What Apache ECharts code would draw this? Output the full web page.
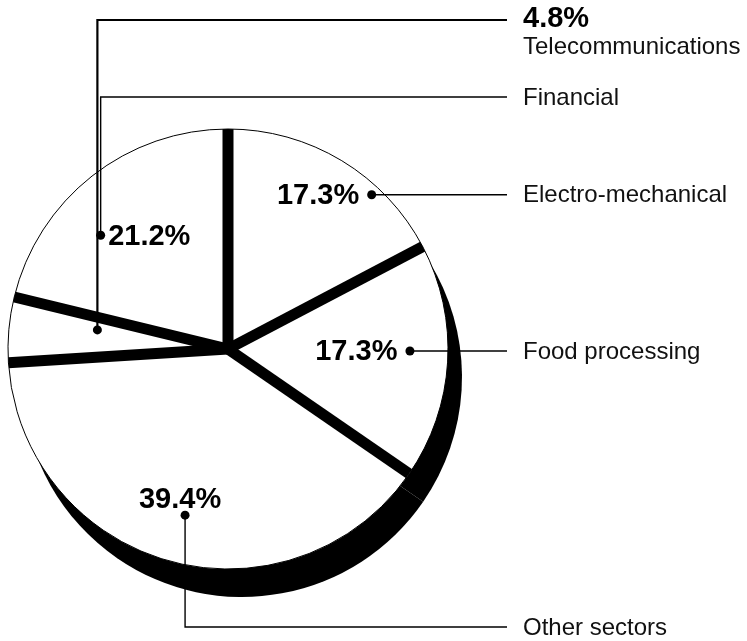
<!DOCTYPE html>
<html><head><meta charset="utf-8">
<script src="https://cdn.jsdelivr.net/npm/echarts@6/dist/echarts.min.js"></script>
<style>html,body{margin:0;padding:0;background:#fff}#chart{width:747px;height:641px}</style>
</head><body><div id="chart"></div>
<script>
// ---- data ----
const categories = ['Electro-mechanical', 'Food processing', 'Other sectors', 'Telecommunications', 'Financial'];
const shares = [17.3, 17.3, 39.4, 4.8, 21.2];
const percentLabels = ['17.3%', '17.3%', '39.4%', '4.8%', '21.2%'];

// ---- layout (not data) ----
const CX = 228, CY = 349, R = 220;
const SHADOW = [14, 28];
const BAND = 11;
const FONT = "'Liberation Sans', Arial, Helvetica, sans-serif";
// anchor of each label dot: [fraction through slice, fraction of radius]
const anchors = [[0.69, 0.958], [0.455, 0.827], [0.493, 0.78], [0.69, 0.60], [0.368, 0.776]];
const pctPos = [
  { position: 'left', distance: 8, offset: [0, 1] },
  { position: 'left', distance: 8, offset: [0, 1] },
  { position: 'top', distance: -4, offset: [-5, 0] },
  null,
  { position: 'right', distance: 3, offset: [0, 2] }
];
// leader routes: 'h' = straight right; 'up'/'down' = vertical to y then right
const routes = [
  { type: 'h', end: 507 },
  { type: 'h', end: 507 },
  { type: 'down', y: 627, end: 507 },
  { type: 'up', y: 20, end: 507, width: 2.2 },
  { type: 'up', y: 97, end: 507 }
];
const TEXT_X = 523;

const starts = [];
shares.reduce((acc, v, i) => { starts[i] = acc; return acc + v; }, 0);
const total = shares.reduce((a, b) => a + b, 0);

const pieData = categories.map((c, i) => ({ name: c, value: shares[i] }));
const boundaries = starts.slice();

const pctLabelStyle = { color: '#000', fontFamily: FONT, fontSize: 29, fontWeight: 'bold' };
const dotData = categories.map((c, i) => {
  const p = pctPos[i];
  const item = { value: [anchors[i][1], starts[i] + anchors[i][0] * shares[i]], name: c };
  if (p) {
    item.label = Object.assign({ show: true, position: p.position, distance: p.distance, offset: p.offset,
      formatter: percentLabels[i] }, pctLabelStyle);
  } else {
    item.label = { show: false };
  }
  return item;
});

const chart = echarts.init(document.getElementById('chart'), null, { renderer: 'canvas' });

const series = [
  { type: 'pie', z: 1, center: [CX + SHADOW[0], CY + SHADOW[1]], radius: R, startAngle: 90,
    silent: true, animation: false, label: { show: false }, labelLine: { show: false },
    itemStyle: { color: '#000', borderWidth: 0 }, emphasis: { disabled: true }, data: pieData },
  { type: 'pie', z: 2, center: [CX, CY], radius: R, startAngle: 90,
    silent: true, animation: false, label: { show: false }, labelLine: { show: false },
    itemStyle: { color: '#fff', borderColor: '#000', borderWidth: 1 }, emphasis: { disabled: true }, data: pieData }
];
boundaries.forEach(b => {
  series.push({ type: 'line', coordinateSystem: 'polar', polarIndex: 0, z: 3, clip: false,
    silent: true, animation: false, symbol: 'none',
    lineStyle: { color: '#000', width: BAND, cap: 'butt' },
    data: [[0, b], [1, b]] });
});
series.push({ type: 'scatter', coordinateSystem: 'polar', polarIndex: 0, z: 5, silent: true,
  animation: false, symbol: 'circle', symbolSize: 9, itemStyle: { color: '#000', opacity: 1 },
  label: pctLabelStyle, data: dotData });
const scatterIndex = series.length - 1;

chart.setOption({
  backgroundColor: '#fff',
  animation: false,
  polar: { center: [CX, CY], radius: R },
  angleAxis: { type: 'value', min: 0, max: total, startAngle: 90, clockwise: true, show: false },
  radiusAxis: { type: 'value', min: 0, max: 1, show: false },
  series: series
});

// leader lines and category labels
const graphics = [];
dotData.forEach((d, i) => {
  let pt = chart.convertToPixel({ seriesIndex: scatterIndex }, d.value);
  if (!pt) {
    const a = (90 - d.value[1] / total * 360) * Math.PI / 180;
    pt = [CX + d.value[0] * R * Math.cos(a), CY - d.value[0] * R * Math.sin(a)];
  }
  const r = routes[i];
  let pts, ly;
  if (r.type === 'h') { pts = [pt, [r.end, pt[1]]]; ly = pt[1]; }
  else { pts = [pt, [pt[0], r.y], [r.end, r.y]]; ly = r.y; }
  graphics.push({ type: 'polyline', z: 50, silent: true,
    shape: { points: pts },
    style: { stroke: '#000', lineWidth: r.width || 1.4, fill: null } });
  if (i === 3) {
    graphics.push({ type: 'text', z: 50, x: TEXT_X, y: ly - 1, silent: true,
      style: { text: percentLabels[i], fontFamily: FONT, fontSize: 29, fontWeight: 'bold',
        fill: '#000', verticalAlign: 'middle', align: 'left' } });
    graphics.push({ type: 'text', z: 50, x: TEXT_X, y: ly + 27, silent: true,
      style: { text: categories[i], fontFamily: FONT, fontSize: 24,
        fill: '#111', verticalAlign: 'middle', align: 'left' } });
  } else {
    graphics.push({ type: 'text', z: 50, x: TEXT_X, y: ly + 1, silent: true,
      style: { text: categories[i], fontFamily: FONT, fontSize: 24,
        fill: '#111', verticalAlign: 'middle', align: 'left' } });
  }
});
chart.setOption({ graphic: { elements: graphics } });
</script>
</body></html>
